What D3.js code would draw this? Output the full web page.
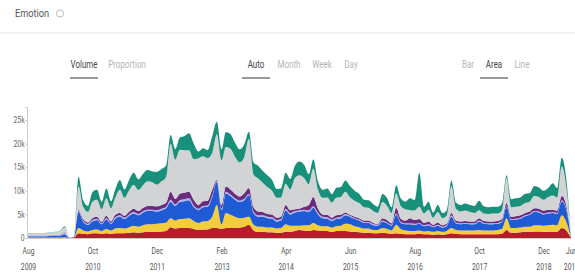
<!DOCTYPE html>
<html>
<head>
<meta charset="utf-8">
<script src="https://cdn.jsdelivr.net/npm/d3@7"></script>
<style>
  body { margin: 0; background: #fff; }
  text { font-family: Roboto, "Liberation Sans", sans-serif; }
</style>
</head>
<body>
<svg id="chart" width="575" height="274"></svg>
<script>
// monthly volumes, in thousands, Aug 2009 .. Jun 2019
const startMonth = new Date(2009, 7, 1);
const endMonth = new Date(2019, 5, 1);

const red = [.05,.05,.05,.05,.05,.05,.05,.05,.1,0,.1,
  1.0,.9,.8,1.0,1.0,.9,1.0,.9,1.0,1.0, 1.0,1.1,1.2,1.1,1.2,1.3,1.3,1.3,1.4,1.5,
  2.3,2.0,2.1,2.1,2.1,1.9,1.7,1.8,1.8,2.1, 2.1,1.9,2.1,2.1,2.1,2.2,2.4,2.8,1.6,1.3,
  1.3,1.2,1.2,1.1,1.1,1.3,1.3,1.5,1.7,1.6, 1.5,1.7,1.6,1.5,1.5,1.3,1.5,1.5,1.5,1.4,
  1.3,1.2,1.1,1.1,1.0,1.0,1.1,1.0,.9,1.0, .9,.8,.8,.8,.9,.8,.8,.7,.8,.7,
  .8,1.0,.9,.8,.8,.8,.8,.8,.8,.8, .8,.8,.9,1.7,1.1,1.1,1.2,1.3,1.3,1.4,
  1.4,1.3,1.3,1.3,1.3,2.1,1.6,.05];
const yellow = [.05,.05,.05,.05,.05,.05,.05,.05,.1,0,.05,
  1.1,.7,.6,.7,.8,.6,.9,.7,1.0,1.1, 1.0,1.2,1.4,1.3,1.5,1.6,1.6,1.7,1.7,1.8,
  1.9,1.7,1.9,2.0,2.1,1.7,1.5,1.7,1.8,2.4, 4.9,1.0,3.2,2.8,2.4,2.0,1.9,1.7,1.2,1.1,
  1.1,1.0,1.0,.9,1.0,1.6,1.3,1.1,.9,1.1, 1.2,1.5,1.1,1.0,1.0,.9,1.0,1.1,1.5,1.5,
  1.2,1.1,.9,.9,.7,.7,1.0,.9,.7,1.8, 1.0,.8,.7,.7,.7,.6,.7,.6,.7,.6,
  .7,1.1,.8,.8,.8,.8,.8,.9,.8,.8, .8,.9,1.0,2.5,1.0,1.0,1.0,1.1,1.1,1.3,
  1.3,1.3,1.4,1.5,1.4,2.7,1.8,.05];
const blue = [.25,.25,.25,.25,.25,.3,.3,.4,.6,.05,.1,
  3.5,1.8,1.4,1.8,2.0,1.4,2.0,1.4,2.1,2.4, 2.0,2.4,2.6,2.4,2.7,2.8,2.8,2.6,2.8,3.0,
  3.5,3.1,3.6,3.7,3.8,3.0,2.7,3.0,3.0,4.2, 4.9,3.0,4.2,4.0,3.6,3.4,3.7,4.6,2.5,2.1,
  2.1,2.0,1.9,1.5,1.6,3.0,2.4,2.8,3.0,3.0, 2.8,3.2,2.3,1.7,1.6,1.4,1.5,1.6,1.8,1.6,
  1.5,1.4,1.2,1.2,1.0,.9,1.4,1.2,1.0,2.1, 1.3,1.3,1.4,1.3,1.4,1.1,1.2,1.0,1.1,.9,
  1.0,2.4,1.4,1.3,1.4,1.3,1.3,1.8,1.4,1.3, 1.3,1.3,1.5,2.4,1.7,1.8,1.9,2.2,2.5,2.8,
  2.7,2.4,2.5,2.5,2.4,3.0,2.6,.1];
const lavender = [.15,.15,.15,.15,.15,.15,.2,.2,.3,0,0,
  .2,.2,.2,.3,.3,.2,.3,.2,.3,.3, .3,.3,.3,.3,.3,.3,.3,.3,.3,.3,
  .4,.3,.4,.4,.4,.3,.3,.3,.3,.3, .2,.3,.3,.3,.3,.3,.3,.3,.3,.3,
  .3,.3,.3,.3,.3,.3,.3,.3,.3,.3, .3,.3,.3,.3,.3,.3,.3,.3,.3,.2,
  .2,.2,.2,.2,.2,.2,.2,.2,.2,.3, .2,.2,.2,.2,.2,.2,.2,.2,.2,.2,
  .2,.3,.2,.2,.2,.2,.2,.2,.2,.2, .2,.2,.2,.2,.2,.2,.2,.2,.2,.2,
  .2,.2,.2,.2,.2,.2,.2,0];
const purple = [.05,.05,.05,.05,.05,.05,.05,.05,.1,0,0,
  .2,.4,.3,.4,.4,.3,.5,.3,.5,.5, .4,.6,.7,.6,.7,.8,.8,.8,.8,.9,
  1.7,1.2,1.4,1.4,1.4,1.2,.8,1.0,1.0,1.2, .2,.8,1.1,1.1,1.0,.9,1.2,1.2,.9,.8,
  .7,.6,.6,.5,.5,.8,.6,.4,.3,.6, 1.2,2.0,.9,.5,.5,.4,.5,.4,.3,.2,
  .3,.3,.3,.3,.3,.2,.5,.5,.3,1.2, .7,.6,1.1,.8,.8,.5,.6,.3,.5,.3,
  .3,.5,.4,.4,.4,.4,.4,.5,.4,.4, .4,.4,.4,.6,.5,.5,.5,.5,.5,.6,
  .6,.6,.6,.5,.5,.9,.7,0];
const gray = [.4,.4,.4,.4,.5,.55,.6,.8,1.1,.05,.05,
  4.9,2.6,2.2,3.5,3.6,2.7,3.7,2.8,3.6,4.9, 3.8,4.5,5.1,4.5,4.8,5.2,5.0,4.6,5.0,5.4,
  10.2,8.3,9.3,9.0,8.8,8.6,9.9,9.5,9.0,7.8, 9.7,9.5,8.4,8.6,7.8,7.2,7.6,10.4,6.9,7.0,
  6.2,5.7,5.0,4.2,4.1,4.5,4.4,6.6,7.1,6.1, 4.4,6.0,4.0,3.5,3.7,3.2,3.7,3.8,4.4,3.7,
  3.4,3.2,2.8,2.7,2.5,2.3,3.4,3.0,2.2,3.1, 2.7,2.4,1.7,2.0,2.6,2.0,2.5,1.5,2.2,1.5,
  1.7,5.7,2.5,2.1,2.2,2.0,1.8,1.7,1.6,1.6, 1.7,1.6,1.8,5.3,2.0,2.0,2.0,2.1,2.1,2.6,
  2.5,2.3,2.7,3.0,2.8,6.3,3.9,.1];
const teal = [.05,.05,.05,.05,.05,.05,.05,.05,.2,0,0,
  2.1,1.4,1.3,2.0,2.1,1.5,2.1,1.5,1.8,2.1, 1.8,2.2,2.5,2.2,2.4,2.4,2.3,2.7,2.6,2.5,
  1.8,2.2,2.6,3.0,3.6,3.3,1.4,1.7,1.7,3.5, 2.6,2.3,3.1,3.1,3.0,2.8,2.7,1.5,2.6,2.7,
  2.5,2.5,2.3,1.9,1.9,2.3,2.2,2.6,2.9,2.8, 2.1,2.0,1.8,1.7,1.9,1.8,2.1,2.1,2.4,2.4,
  2.1,1.9,1.6,1.6,1.5,1.3,1.7,1.6,1.2,1.7, 1.6,1.6,2.5,2.2,7.2,1.4,1.7,1.1,1.5,1.1,
  1.2,1.2,1.3,1.4,1.5,1.5,1.5,2.0,1.5,1.4, 1.4,1.4,1.5,.6,1.7,1.8,1.8,2.0,1.8,2.1,
  2.0,1.9,1.9,2.6,2.0,1.8,1.7,0];

const seriesKeys = ["red", "yellow", "blue", "lavender", "purple", "gray", "teal"];
const seriesColors = ["#b21f2b", "#f4cd3c", "#1f5bd4", "#aeb2ee", "#6a2c7f", "#d2d3d5", "#19907a"];
const yTicks = [0, 5, 10, 15, 20, 25];
const xTickDates = [new Date(2009,7,1), new Date(2010,9,1), new Date(2011,11,1), new Date(2013,1,1),
  new Date(2014,3,1), new Date(2015,5,1), new Date(2016,7,1), new Date(2017,9,1), new Date(2018,11,1), new Date(2019,5,1)];

const months = d3.timeMonth.range(startMonth, d3.timeMonth.offset(endMonth, 1));
const cols = {red, yellow, blue, lavender, purple, gray, teal};
const table = months.map((date, i) => {
  const row = {date};
  seriesKeys.forEach(k => row[k] = cols[k][i]);
  return row;
});

const squeeze = 0.8; // the screenshot text is horizontally narrow
const svg = d3.select("#chart");

// header
svg.append("text").attr("transform", `translate(15,17) scale(${squeeze},1)`)
  .attr("font-size", 11.5).attr("fill", "#555").text("Emotion");
svg.append("circle").attr("cx", 60).attr("cy", 13.5).attr("r", 3.6)
  .attr("fill", "none").attr("stroke", "#aaa").attr("stroke-width", 0.8);
svg.append("line").attr("x1", 0).attr("x2", 575).attr("y1", 33).attr("y2", 33)
  .attr("stroke", "#e6e6e6");

// toggles
const toggles = [
  {label: "Volume", x: 84, on: true}, {label: "Proportion", x: 127},
  {label: "Auto", x: 256, on: true}, {label: "Month", x: 289}, {label: "Week", x: 322}, {label: "Day", x: 351},
  {label: "Bar", x: 468}, {label: "Area", x: 494, on: true}, {label: "Line", x: 522}
];
const tg = svg.append("g").selectAll("g").data(toggles).join("g");
tg.append("text").attr("transform", d => `translate(${d.x},68) scale(${squeeze},1)`)
  .attr("text-anchor", "middle")
  .attr("font-size", 10).attr("fill", d => d.on ? "#444" : "#b5b5b5").text(d => d.label);
tg.filter(d => d.on).append("line")
  .attr("x1", d => d.x - 14).attr("x2", d => d.x + 14).attr("y1", 78).attr("y2", 78)
  .attr("stroke", "#777").attr("stroke-width", 1.5);

// chart
const x = d3.scaleTime().domain([startMonth, endMonth]).range([28, 571]);
const y = d3.scaleLinear().domain([0, 27.75]).range([238, 107]);

const stacked = d3.stack().keys(seriesKeys)(table);
const area = d3.area()
  .x(d => x(d.data.date))
  .y0(d => y(d[0]))
  .y1(d => y(d[1]))
  .curve(d3.curveMonotoneX);

svg.append("g").selectAll("path").data(stacked).join("path")
  .attr("fill", (d, i) => seriesColors[i])
  .attr("d", area);

const yAxis = svg.append("g").attr("transform", "translate(27,0)")
  .call(d3.axisLeft(y).tickValues(yTicks).tickSize(2).tickPadding(1)
    .tickFormat(d => d === 0 ? "0" : d + "k"));
yAxis.select(".domain").attr("stroke", "#ccc");
yAxis.selectAll(".tick line").attr("stroke", "#ccc");
yAxis.selectAll("text").attr("font-size", 8.5).attr("fill", "#666")
  .attr("transform", `scale(${squeeze},1)`);

const xAxis = svg.append("g").attr("transform", "translate(0,238)")
  .call(d3.axisBottom(x).tickValues(xTickDates).tickSize(0).tickFormat(""));
xAxis.select(".domain").attr("stroke", "#ccc");
const xl = xAxis.selectAll(".tick");
xl.append("text").attr("transform", `translate(0,16) scale(${squeeze},1)`)
  .attr("fill", "#555").attr("font-size", 8.5)
  .attr("text-anchor", "middle").text(d => d3.timeFormat("%b")(d));
xl.append("text").attr("transform", `translate(0,32) scale(${squeeze},1)`)
  .attr("fill", "#555").attr("font-size", 8.5)
  .attr("text-anchor", "middle").text(d => d3.timeFormat("%Y")(d));
</script>
</body>
</html>
